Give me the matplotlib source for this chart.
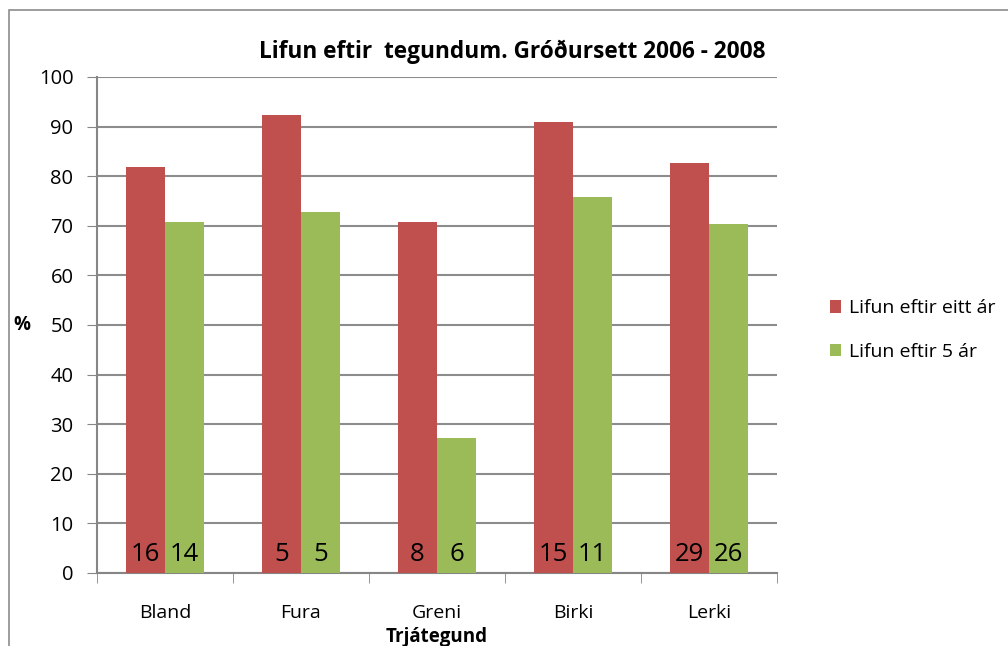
from matplotlib import pyplot as plt
from matplotlib.patches import Rectangle
import numpy as np

# data
categories = ["Bland", "Fura", "Greni", "Birki", "Lerki"]
eitt_ar = [81.8, 92.4, 70.7, 90.9, 82.6]
fimm_ar = [70.7, 72.7, 27.2, 75.9, 70.3]
count_eitt = [16, 5, 8, 15, 29]
count_fimm = [14, 5, 6, 11, 26]
series_names = ["Lifun eftir eitt ár", "Lifun eftir 5 ár"]

plt.rcParams['font.family'] = ['Open Sans', 'DejaVu Sans']

fig = plt.figure(figsize=(10.08, 6.46), dpi=100)
# ramma
fig.patches.append(Rectangle((9/1008, -0.1), 1.2, 1.1 - 10/646,
                             transform=fig.transFigure, fill=False,
                             edgecolor="#8c8c8c", linewidth=1.2))

ax = fig.add_axes([97/1008, 1 - 573/646, 680/1008, 496/646])

x = np.arange(len(categories))
w = 0.287
red = "#c0504d"
green = "#9bbb59"
ax.bar(x - w/2, eitt_ar, width=w, color=red, label=series_names[0], zorder=3)
ax.bar(x + w/2, fimm_ar, width=w, color=green, label=series_names[1], zorder=3)

# fjoldi
for i in range(len(categories)):
    ax.text(x[i] - w/2, 1.2, str(count_eitt[i]), ha="center", va="bottom",
            fontsize=18.5, zorder=4)
    ax.text(x[i] + w/2, 1.2, str(count_fimm[i]), ha="center", va="bottom",
            fontsize=18.5, zorder=4)

ax.set_xlim(-0.5, len(categories) - 0.5)
ax.set_ylim(0, 100)
ax.set_yticks(range(0, 101, 10))
ax.tick_params(axis="y", labelsize=14.5, length=7, color="#868686", pad=10)
ax.set_xticks(x)
ax.set_xticklabels(categories)
ax.set_xticks(np.arange(-0.5, len(categories), 1), minor=True)
ax.tick_params(axis="x", which="major", length=0, labelsize=14, pad=22)
ax.tick_params(axis="x", which="minor", length=7, color="#868686")
ax.grid(axis="y", color="#8c8c8c", linewidth=1.5, zorder=0)
for s in ["top", "right"]:
    ax.spines[s].set_visible(False)
for s in ["left", "bottom"]:
    ax.spines[s].set_color("#868686")
    ax.spines[s].set_linewidth(1.5)

ax.set_title("Lifun eftir  tegundum. Gróðursett 2006 - 2008",
             fontsize=16.3, fontweight="bold", pad=14, x=0.61)
ax.set_xlabel("Trjátegund", fontsize=13.5, fontweight="bold", labelpad=4)
fig.text(22/1008, 1 - 325/646, "%", fontsize=13.5, fontweight="bold",
         ha="center", va="center")

fig.legend(loc="center left", bbox_to_anchor=(812/1008, 1 - 330/646),
           frameon=False, fontsize=14, handlelength=0.6, handleheight=0.6,
           handletextpad=0.4, labelspacing=1.3)

plt.savefig("out.png", dpi=100)
